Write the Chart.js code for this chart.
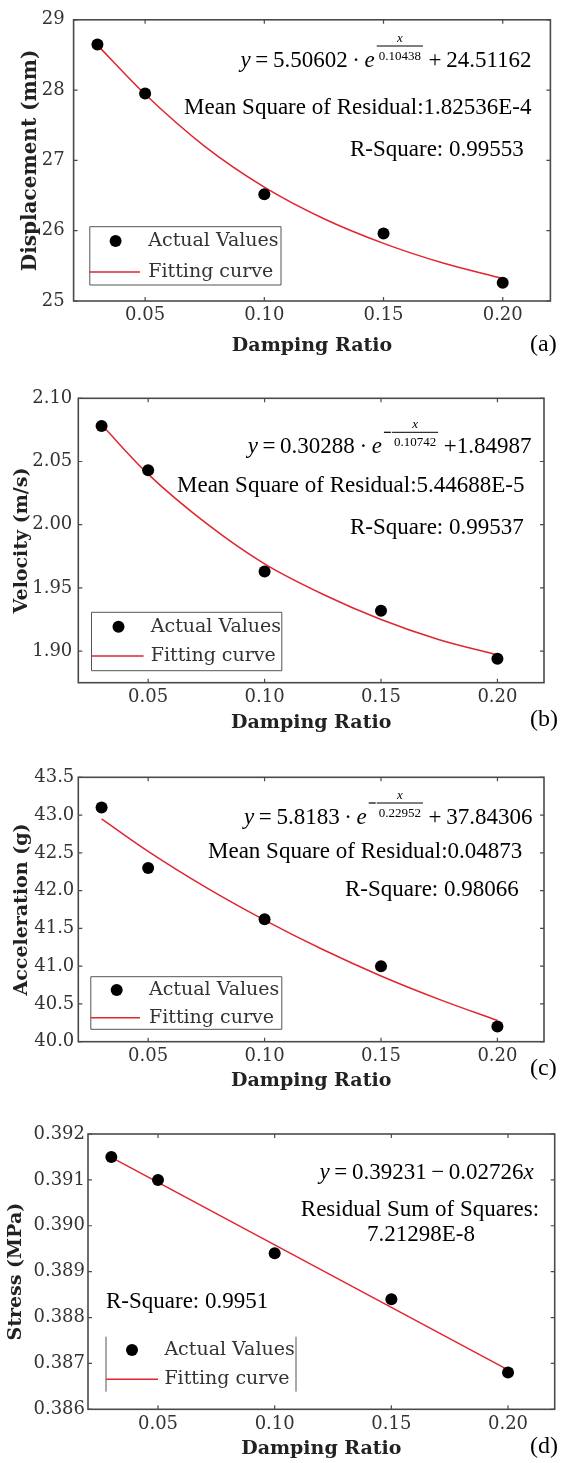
<!DOCTYPE html>
<html>
<head>
  <title>Damping Ratio fits</title>
  <script src="https://cdn.jsdelivr.net/npm/chart.js"></script>
  <style>
    body { margin: 0; background: #fff; width: 563px; height: 1463px; position: relative; overflow: hidden; }
    canvas { position: absolute; left: 0; display: block; }
  </style>
</head>
<body>
  <canvas id="ca" width="563" height="360" style="top:0px"></canvas>
  <canvas id="cb" width="563" height="380" style="top:360px"></canvas>
  <canvas id="cc" width="563" height="370" style="top:730px"></canvas>
  <canvas id="cd" width="563" height="373" style="top:1090px"></canvas>
  <script>
    // --- DATA ---
    const dampingRatio = [0.03, 0.05, 0.10, 0.15, 0.20];
    const displacement = [28.65, 27.95, 26.52, 25.96, 25.26];
    const velocity     = [2.078, 2.043, 1.963, 1.932, 1.894];
    const acceleration = [43.10, 42.30, 41.62, 41.00, 40.20];
    const stress       = [0.3915, 0.3910, 0.3894, 0.3884, 0.3868];

    // fitted curves, sampled along the red line
    const fitRatio        = [0.03, 0.05, 0.075, 0.10, 0.125, 0.15, 0.175, 0.20];
    const displacementFit = [28.64, 27.94, 27.20, 26.62, 26.17, 25.82, 25.54, 25.32];
    const velocityFit     = [2.079, 2.040, 2.001, 1.969, 1.945, 1.925, 1.909, 1.897];
    const accelerationFit = [42.95, 42.52, 42.04, 41.61, 41.22, 40.87, 40.56, 40.28];
    const stressFitRatio  = [0.03, 0.20];
    const stressFit       = [0.39149, 0.38686];

    // tick labels
    const ratioTicks        = [0.05, 0.10, 0.15, 0.20];
    const displacementTicks = [25, 26, 27, 28, 29];
    const velocityTicks     = [1.90, 1.95, 2.00, 2.05, 2.10];
    const accelerationTicks = [40.0, 40.5, 41.0, 41.5, 42.0, 42.5, 43.0, 43.5];
    const stressTicks       = [0.386, 0.387, 0.388, 0.389, 0.390, 0.391, 0.392];

    const RED = '#e0262f';
    const AXIS = '#4a4a4a';
    const TICK_FONT = { family: 'DejaVu Serif', size: 18 };
    const TXT_FONT = 'Liberation Serif';
    const TS = '\u2009'; // thin space

    const pairs = (xs, ys) => xs.map((x, i) => ({ x: x, y: ys[i] }));

    // draws "y = a · e^(-x/b) + c" style text, left to right
    function drawEquation(ctx, eq) {
      let x = eq.x;
      const base = eq.base;
      ctx.textBaseline = 'alphabetic';
      ctx.textAlign = 'left';
      ctx.fillStyle = '#000';
      eq.parts.forEach(p => {
        if (p.frac) {
          ctx.font = '13px "' + TXT_FONT + '"';
          const lineY = base - 21;
          let fx = x + 2;
          if (p.frac.minus) {
            ctx.fillRect(fx, lineY - 0.6, 7, 1.2);
            fx += 8;
          }
          const w = Math.max(ctx.measureText(p.frac.num).width, ctx.measureText(p.frac.den).width) + 4;
          ctx.fillRect(fx, lineY - 0.5, w, 1);
          ctx.textAlign = 'center';
          ctx.font = 'italic 13px "' + TXT_FONT + '"';
          ctx.fillText(p.frac.num, fx + w / 2, lineY - 4);
          ctx.font = '13px "' + TXT_FONT + '"';
          ctx.fillText(p.frac.den, fx + w / 2, lineY + 14);
          ctx.textAlign = 'left';
          x = fx + w + 1;
        } else {
          ctx.font = (p.it ? 'italic ' : '') + '23px "' + TXT_FONT + '"';
          ctx.fillText(p.t, x, base);
          x += ctx.measureText(p.t).width;
        }
      });
    }

    // frame with inward ticks, inner legend, fit annotations, panel letter
    const decor = {
      id: 'decor',
      afterDatasetsDraw(chart, args, o) {
        const { ctx, chartArea: a, scales: { x, y } } = chart;
        ctx.save();
        ctx.strokeStyle = AXIS;
        ctx.lineWidth = 1.2;
        ctx.beginPath();
        x.ticks.forEach(t => {
          const px = x.getPixelForValue(t.value);
          ctx.moveTo(px, a.bottom); ctx.lineTo(px, a.bottom - 4);
          ctx.moveTo(px, a.top); ctx.lineTo(px, a.top + 4);
        });
        y.ticks.forEach(t => {
          const py = y.getPixelForValue(t.value);
          ctx.moveTo(a.left, py); ctx.lineTo(a.left + 4, py);
          ctx.moveTo(a.right, py); ctx.lineTo(a.right - 4, py);
        });
        ctx.stroke();
        ctx.lineWidth = 1.6;
        ctx.strokeRect(a.left, a.top, a.right - a.left, a.bottom - a.top);

        // legend
        const lg = o.legend;
        const ds = chart.data.datasets;
        ctx.fillStyle = '#fff';
        ctx.fillRect(lg.l, lg.t, lg.r - lg.l, lg.b - lg.t);
        ctx.strokeStyle = '#555';
        ctx.lineWidth = 1;
        ctx.beginPath();
        if (lg.sidesOnly) {
          ctx.moveTo(lg.l, lg.t); ctx.lineTo(lg.l, lg.b);
          ctx.moveTo(lg.r, lg.t); ctx.lineTo(lg.r, lg.b);
        } else {
          ctx.rect(lg.l, lg.t, lg.r - lg.l, lg.b - lg.t);
        }
        ctx.stroke();
        ctx.fillStyle = ds[0].pointBackgroundColor;
        ctx.beginPath();
        ctx.arc(lg.dotX, lg.rows[0], ds[0].pointRadius, 0, Math.PI * 2);
        ctx.fill();
        ctx.strokeStyle = ds[1].borderColor;
        ctx.lineWidth = ds[1].borderWidth;
        ctx.beginPath();
        ctx.moveTo(lg.l, lg.rows[1]); ctx.lineTo(lg.lineEnd, lg.rows[1]);
        ctx.stroke();
        ctx.fillStyle = '#333';
        ctx.font = '19px "DejaVu Serif"';
        ctx.textAlign = 'left';
        ctx.textBaseline = 'middle';
        ctx.fillText(ds[0].label, lg.textX, lg.rows[0]);
        ctx.fillText(ds[1].label, lg.textX, lg.rows[1]);

        // fit annotations
        drawEquation(ctx, o.eq);
        ctx.fillStyle = '#000';
        ctx.font = '23px "' + TXT_FONT + '"';
        ctx.textBaseline = 'middle';
        ctx.textAlign = 'left';
        o.notes.forEach(n => ctx.fillText(n.t, n.x, n.y));

        // panel letter
        ctx.font = '24px "' + TXT_FONT + '"';
        ctx.fillText(o.letter.t, o.letter.x, o.letter.y);
        ctx.restore();
      }
    };

    function makeChart(id, p) {
      return new Chart(document.getElementById(id), {
        type: 'line',
        data: {
          datasets: [
            {
              label: 'Actual Values',
              data: pairs(dampingRatio, p.values),
              showLine: false,
              pointRadius: 6,
              pointBackgroundColor: '#000',
              pointBorderColor: '#000',
              pointBorderWidth: 0
            },
            {
              label: 'Fitting curve',
              data: pairs(p.fitX, p.fit),
              borderColor: RED,
              borderWidth: 1.5,
              pointRadius: 0,
              cubicInterpolationMode: 'monotone',
              fill: false
            }
          ]
        },
        options: {
          responsive: false,
          animation: false,
          layout: { padding: { top: p.area.top, right: 563 - p.area.right, left: 0, bottom: 0 } },
          plugins: {
            legend: { display: false },
            tooltip: { enabled: false },
            decor: { legend: p.legend, eq: p.eq, notes: p.notes, letter: p.letter }
          },
          scales: {
            x: {
              type: 'linear',
              min: 0.02,
              max: 0.22,
              afterBuildTicks: s => { s.ticks = ratioTicks.map(v => ({ value: v })); },
              afterFit: s => { s.height = p.h - p.area.bottom; },
              ticks: { color: '#333', font: TICK_FONT, padding: 4, callback: v => v.toFixed(2) },
              grid: { display: false, drawTicks: false },
              border: { display: false },
              title: {
                display: true, text: 'Damping Ratio', color: '#222',
                font: { family: 'DejaVu Serif', size: 19, weight: 'bold' },
                padding: { top: 0, bottom: p.xTitlePad }
              }
            },
            y: {
              type: 'linear',
              min: p.yMin,
              max: p.yMax,
              afterBuildTicks: s => { s.ticks = p.yTicks.map(v => ({ value: v })); },
              afterFit: s => { s.width = p.area.left; },
              ticks: { color: '#333', font: TICK_FONT, padding: p.yTickPad, callback: v => v.toFixed(p.dec) },
              grid: { display: false, drawTicks: false },
              border: { display: false },
              title: {
                display: true, text: p.yTitle, color: '#222',
                font: { family: 'DejaVu Serif', size: p.yTitleSize, weight: 'bold' },
                padding: { top: p.yTitlePad, bottom: 0 }
              }
            }
          }
        },
        plugins: [decor]
      });
    }

    // (a) displacement
    makeChart('ca', {
      h: 360, area: { left: 73.6, right: 550.4, top: 16, bottom: 301 },
      values: displacement, fitX: fitRatio, fit: displacementFit,
      yMin: 25, yMax: 29, yTicks: displacementTicks, dec: 0, yTickPad: 9,
      yTitle: 'Displacement (mm)', yTitleSize: 20, yTitlePad: 19, xTitlePad: 3,
      legend: { l: 89.8, t: 226.7, r: 281, b: 285, dotX: 115.6, lineEnd: 140, textX: 148.3, rows: [241, 272] },
      eq: { x: 240.5, base: 67, parts: [
        { t: 'y', it: true }, { t: TS + '=' + TS + '5.50602' + TS + '·' + TS }, { t: 'e', it: true },
        { frac: { num: 'x', den: '0.10438', minus: false } }, { t: TS + '+' + TS + '24.51162' }] },
      notes: [
        { t: 'Mean Square of Residual:1.82536E-4', x: 184, y: 108 },
        { t: 'R-Square: 0.99553', x: 350, y: 150 }],
      letter: { t: '(a)', x: 530, y: 345 }
    });

    // (b) velocity
    makeChart('cb', {
      h: 380, area: { left: 78.3, right: 544, top: 38.3, bottom: 322.7 },
      values: velocity, fitX: fitRatio, fit: velocityFit,
      yMin: 1.875, yMax: 2.10, yTicks: velocityTicks, dec: 2, yTickPad: 6,
      yTitle: 'Velocity (m/s)', yTitleSize: 19, yTitlePad: 11, xTitlePad: 6,
      legend: { l: 91.5, t: 252.3, r: 281.8, b: 310.7, dotX: 118.5, lineEnd: 143.6, textX: 150.8, rows: [266.7, 296] },
      eq: { x: 247.7, base: 93.3, parts: [
        { t: 'y', it: true }, { t: TS + '=' + TS + '0.30288' + TS + '·' + TS }, { t: 'e', it: true },
        { frac: { num: 'x', den: '0.10742', minus: true } }, { t: TS + '+1.84987' }] },
      notes: [
        { t: 'Mean Square of Residual:5.44688E-5', x: 177, y: 126 },
        { t: 'R-Square: 0.99537', x: 350, y: 167.7 }],
      letter: { t: '(b)', x: 530, y: 360 }
    });

    // (c) acceleration
    makeChart('cc', {
      h: 370, area: { left: 78.3, right: 544, top: 47.3, bottom: 311.7 },
      values: acceleration, fitX: fitRatio, fit: accelerationFit,
      yMin: 40, yMax: 43.5, yTicks: accelerationTicks, dec: 1, yTickPad: 4,
      yTitle: 'Acceleration (g)', yTitleSize: 19, yTitlePad: 11, xTitlePad: 8,
      legend: { l: 90.8, t: 246.7, r: 281.8, b: 299.3, dotX: 116.7, lineEnd: 140, textX: 149, rows: [260, 287.7] },
      eq: { x: 244, base: 94, parts: [
        { t: 'y', it: true }, { t: TS + '=' + TS + '5.8183' + TS + '·' + TS }, { t: 'e', it: true },
        { frac: { num: 'x', den: '0.22952', minus: true } }, { t: TS + '+' + TS + '37.84306' }] },
      notes: [
        { t: 'Mean Square of Residual:0.04873', x: 208, y: 122.3 },
        { t: 'R-Square: 0.98066', x: 345, y: 160 }],
      letter: { t: '(c)', x: 530, y: 339 }
    });

    // (d) stress
    makeChart('cd', {
      h: 373, area: { left: 88, right: 554.7, top: 44, bottom: 319.3 },
      values: stress, fitX: stressFitRatio, fit: stressFit,
      yMin: 0.386, yMax: 0.392, yTicks: stressTicks, dec: 3, yTickPad: 3,
      yTitle: 'Stress (MPa)', yTitleSize: 19, yTitlePad: 5, xTitlePad: 3,
      legend: { l: 106, t: 246.7, r: 296, b: 301.7, sidesOnly: true, dotX: 132, lineEnd: 158, textX: 164.4, rows: [260, 289.3] },
      eq: { x: 319.5, base: 88.5, parts: [
        { t: 'y', it: true }, { t: TS + '=' + TS + '0.39231' + TS + '−' + TS + '0.02726' }, { t: 'x', it: true }] },
      notes: [
        { t: 'Residual Sum of Squares:', x: 300.8, y: 120 },
        { t: '7.21298E-8', x: 367, y: 145 },
        { t: 'R-Square: 0.9951', x: 106, y: 211.7 }],
      letter: { t: '(d)', x: 530, y: 357 }
    });
  </script>
</body>
</html>
